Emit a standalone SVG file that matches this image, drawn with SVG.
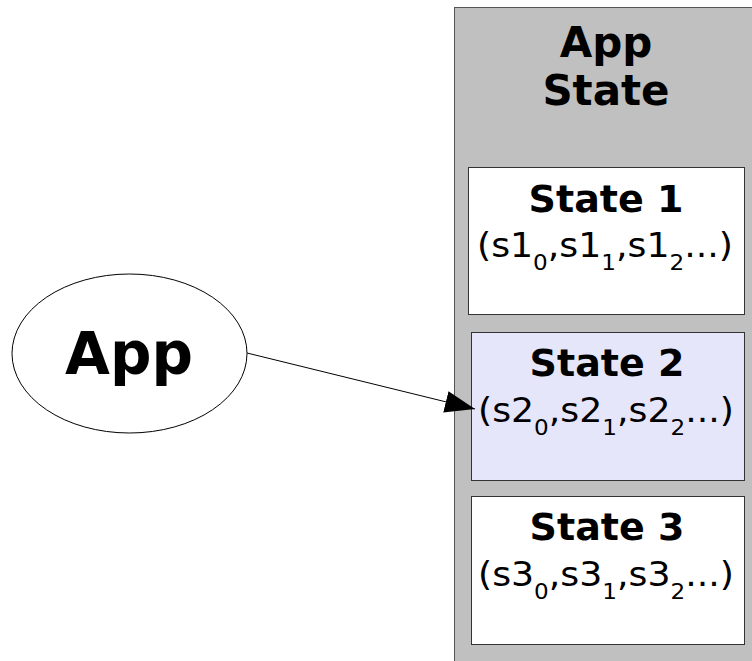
<svg xmlns="http://www.w3.org/2000/svg" width="752" height="661" viewBox="0 0 752 661">
  <style>
    text { font-family: "DejaVu Sans", "Liberation Sans", sans-serif; fill: #000; }
    .title { font-weight: bold; font-size: 42px; }
    .big { font-weight: bold; font-size: 58px; }
    .name { font-weight: bold; font-size: 38px; }
    .vals { font-size: 33px; }
    .sub { font-size: 21px; }
    .box { stroke: #333; stroke-width: 1; }
  </style>
  <defs>
    <marker id="arrow" viewBox="0 0 30 22" refX="30" refY="11" markerWidth="30" markerHeight="22" markerUnits="userSpaceOnUse" orient="auto">
      <path d="M0,0 L30,11 L0,22 Z" fill="#000"/>
    </marker>
  </defs>

  <!-- container holding the states -->
  <g id="app-state">
    <rect x="454.5" y="7.5" width="310" height="670" fill="#c0c0c0" stroke="#555" stroke-width="1"/>
    <text class="title" x="606" y="57" text-anchor="middle">App</text>
    <text class="title" x="606" y="105" text-anchor="middle">State</text>
  </g>

  <!-- value lines are widened slightly to fill the boxes -->
  <g id="state1">
    <rect class="box" x="468.5" y="167.5" width="276" height="147" fill="#fff"/>
    <text class="name" x="606" y="212" text-anchor="middle">State 1</text>
    <text class="vals" transform="translate(605,257) scale(1.1,1)" text-anchor="middle">(s1<tspan class="sub" dy="13">0</tspan><tspan dy="-13">,s1</tspan><tspan class="sub" dy="13">1</tspan><tspan dy="-13">,s1</tspan><tspan class="sub" dy="13">2</tspan><tspan dy="-13">...)</tspan></text>
  </g>

  <g id="state2">
    <rect class="box" x="471.5" y="332.5" width="273" height="148" fill="#e6e6fa"/>
    <text class="name" x="607" y="376" text-anchor="middle">State 2</text>
    <text class="vals" transform="translate(606,422) scale(1.1,1)" text-anchor="middle">(s2<tspan class="sub" dy="13">0</tspan><tspan dy="-13">,s2</tspan><tspan class="sub" dy="13">1</tspan><tspan dy="-13">,s2</tspan><tspan class="sub" dy="13">2</tspan><tspan dy="-13">...)</tspan></text>
  </g>

  <g id="state3">
    <rect class="box" x="471.5" y="496.5" width="273" height="148" fill="#fff"/>
    <text class="name" x="607" y="540" text-anchor="middle">State 3</text>
    <text class="vals" transform="translate(606,586) scale(1.1,1)" text-anchor="middle">(s3<tspan class="sub" dy="13">0</tspan><tspan dy="-13">,s3</tspan><tspan class="sub" dy="13">1</tspan><tspan dy="-13">,s3</tspan><tspan class="sub" dy="13">2</tspan><tspan dy="-13">...)</tspan></text>
  </g>

  <g id="app">
    <ellipse cx="129.5" cy="353.5" rx="117.5" ry="79.5" fill="#fff" stroke="#000" stroke-width="1"/>
    <text class="big" x="129" y="374" text-anchor="middle">App</text>
  </g>

  <g id="connectors">
    <line x1="247" y1="353" x2="475" y2="409" stroke="#000" stroke-width="1" marker-end="url(#arrow)"/>
  </g>
</svg>
